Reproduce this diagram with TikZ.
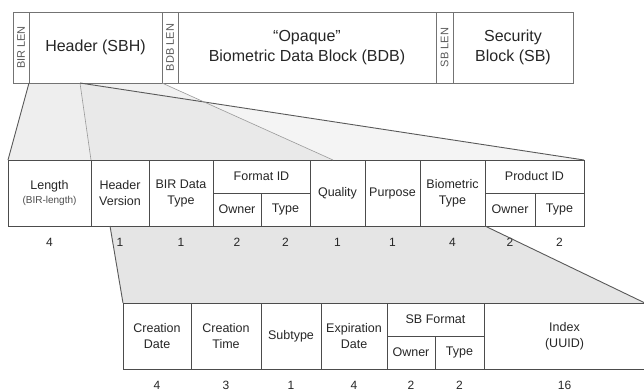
\documentclass[tikz,border=0pt]{standalone}
\usepackage{fontspec}
\setmainfont{Liberation Sans}
\usepackage{graphicx}
\usetikzlibrary{positioning,backgrounds}

\newcommand{\topfont}{\fontsize{16}{19.5}\selectfont}
\newcommand{\cellfont}{\fontsize{12.5}{16}\selectfont}
\newcommand{\subfont}{\fontsize{10}{12}\selectfont}
\newcommand{\lenfont}{\fontsize{11}{13}\selectfont}
\newcommand{\numfont}{\fontsize{12}{14}\selectfont}

\tikzstyle{cell} = [rectangle, draw=black!70, line width=0.8pt, inner sep=0pt, outer sep=0pt, align=center, text=black!85, font=\cellfont]
\tikzstyle{blockcell} = [cell, draw=black!55, minimum height=71pt, font=\topfont]
\tikzstyle{lencell} = [blockcell, minimum width=16pt, font=\lenfont, text=black!65]
\tikzstyle{field} = [cell, minimum height=66pt]
\tikzstyle{half} = [cell, minimum height=33pt]
\tikzstyle{num} = [inner sep=0pt, font=\numfont, text=black!85]
\tikzstyle{edge} = [draw=black!65, line width=0.9pt]
\tikzstyle{faint} = [draw=black!40, line width=0.6pt]

\begin{document}
\begin{tikzpicture}[x=1pt, y=1pt]
\useasboundingbox (0,0) rectangle (644,-391);

% BIR record
\node (birlen) [lencell, anchor=north west] at (13,-12) {\rotatebox{90}{BIR LEN}};
\node (sbh) [blockcell, minimum width=133pt, right=0pt of birlen] {Header (SBH)};
\node (bdblen) [lencell, right=0pt of sbh] {\rotatebox{90}{BDB LEN}};
\node (bdb) [blockcell, minimum width=258pt, right=0pt of bdblen] {“Opaque”\\Biometric Data Block (BDB)};
\node (sblen) [lencell, minimum width=17pt, right=0pt of bdb] {\rotatebox{90}{SB LEN}};
\node (sb) [blockcell, minimum width=120pt, right=0pt of sblen] {Security\\Block (SB)};

% Header fields
\node (length) [field, minimum width=83pt, anchor=north west] at (8,-160) {Length\\[-2pt]{\subfont\color{black!70}(BIR-length)}};
\node (hdrver) [field, minimum width=58pt, right=0pt of length] {Header\\Version};
\node (birtype) [field, minimum width=64pt, right=0pt of hdrver] {BIR Data\\Type};
\node (fmtid) [half, minimum width=97pt, anchor=north west] at (birtype.north east) {Format ID};
\node (fmtowner) [half, minimum width=48pt, anchor=north west] at (fmtid.south west) {Owner};
\node (fmttype) [half, minimum width=49pt, right=0pt of fmtowner] {Type};
\node (quality) [field, minimum width=55pt, anchor=north west] at (fmtid.north east) {Quality};
\node (purpose) [field, minimum width=55pt, right=0pt of quality] {Purpose};
\node (biotype) [field, minimum width=65pt, right=0pt of purpose] {Biometric\\Type};
\node (prodid) [half, minimum width=99pt, anchor=north west] at (biotype.north east) {Product ID};
\node (prodowner) [half, minimum width=50pt, anchor=north west] at (prodid.south west) {Owner};
\node (prodtype) [half, minimum width=49pt, right=0pt of prodowner] {Type};

% Header field sizes
\node (nlength) [num, below=12pt of length] {4};
\node (nhdrver) [num, below=12pt of hdrver] {1};
\node (nbirtype) [num, below=12pt of birtype] {1};
\node (nfmtowner) [num, below=12pt of fmtowner] {2};
\node (nfmttype) [num, below=12pt of fmttype] {2};
\node (nquality) [num, below=12pt of quality] {1};
\node (npurpose) [num, below=12pt of purpose] {1};
\node (nbiotype) [num, below=12pt of biotype] {4};
\node (nprodowner) [num, below=12pt of prodowner] {2};
\node (nprodtype) [num, below=12pt of prodtype] {2};

% Optional fields
\node (crdate) [field, minimum width=68pt, anchor=north west] at (123,-303) {Creation\\Date};
\node (crtime) [field, minimum width=70pt, right=0pt of crdate] {Creation\\Time};
\node (subtype) [field, minimum width=60pt, right=0pt of crtime] {Subtype};
\node (expdate) [field, minimum width=66pt, right=0pt of subtype] {Expiration\\Date};
\node (sbfmt) [half, minimum width=97pt, anchor=north west] at (expdate.north east) {SB Format};
\node (sbowner) [half, minimum width=48pt, anchor=north west] at (sbfmt.south west) {Owner};
\node (sbtype) [half, minimum width=49pt, right=0pt of sbowner] {Type};
\node (index) [field, minimum width=161pt, anchor=north west] at (sbfmt.north east) {Index\\(UUID)};

\node (ncrdate) [num, below=12pt of crdate] {4};
\node (ncrtime) [num, below=12pt of crtime] {3};
\node (nsubtype) [num, below=12pt of subtype] {1};
\node (nexpdate) [num, below=12pt of expdate] {4};
\node (nsbowner) [num, below=12pt of sbowner] {2};
\node (nsbtype) [num, below=12pt of sbtype] {2};
\node (nindex) [num, below=12pt of index] {16};

% Fans
\coordinate (sbhcut) at (80,-83);
\coordinate (qcut) at (333,-160);
\coordinate (verfold) at (110,-226);
\coordinate (cross) at (intersection of sbhcut--prodid.north east and sbh.south east--qcut);

\begin{scope}[on background layer]
\fill [gray!13] (sbh.south west) -- (sbhcut) -- (hdrver.north west) -- (length.north west) -- cycle;
\fill [gray!11] (sbhcut) -- (sbh.south east) -- (cross) -- cycle;
\fill [gray!17] (sbhcut) -- (cross) -- (qcut) -- (hdrver.north west) -- cycle;
\fill [gray!9] (cross) -- (prodid.north east) -- (qcut) -- cycle;
\fill [gray!20] (verfold) -- (biotype.south east) -- (index.north east) -- (crdate.north west) -- cycle;
\end{scope}

\draw [edge] (sbh.south west) -- (length.north west);
\draw [faint] (sbhcut) -- (hdrver.north west);
\draw [edge] (sbhcut) -- (prodid.north east);
\draw [faint] (sbh.south east) -- (qcut);
\draw [edge] (verfold) -- (crdate.north west);
\draw [edge] (biotype.south east) -- (index.north east);

\end{tikzpicture}
\end{document}
